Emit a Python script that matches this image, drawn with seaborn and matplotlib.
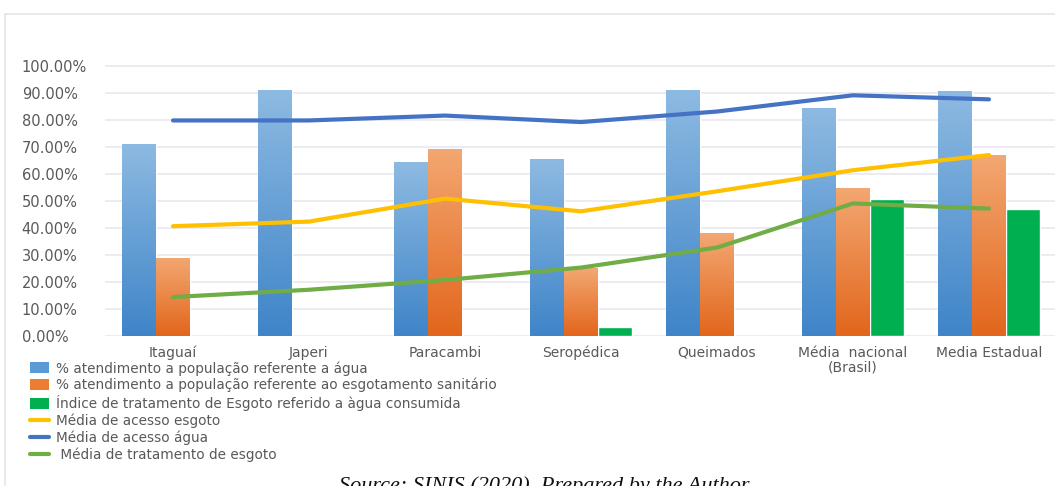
import numpy as np
import pandas as pd
import matplotlib
matplotlib.use("Agg")
import matplotlib.pyplot as plt
import seaborn as sns
from matplotlib.colors import LinearSegmentedColormap
from matplotlib.patches import Patch
from matplotlib.lines import Line2D
from matplotlib.ticker import PercentFormatter

# ── data ──────────────────────────────────────────────────
municipios = ["Itaguaí", "Japeri", "Paracambi", "Seropédica", "Queimados",
              "Média  nacional\n(Brasil)", "Media Estadual"]

agua = [0.710, 0.911, 0.643, 0.656, 0.911, 0.842, 0.906]
esgoto = [0.289, 0.0, 0.693, 0.250, 0.379, 0.549, 0.668]
tratamento = [0.0, 0.0, 0.0, 0.034, 0.0, 0.507, 0.470]

media_esgoto = [0.406, 0.423, 0.508, 0.461, 0.535, 0.613, 0.669]
media_agua = [0.797, 0.797, 0.815, 0.791, 0.830, 0.890, 0.875]
media_tratamento = [0.144, 0.171, 0.207, 0.253, 0.327, 0.490, 0.471]

bar_labels = ["% atendimento a população referente a água",
              "% atendimento a população referente ao esgotamento sanitário",
              "Índice de tratamento de Esgoto referido a àgua consumida"]
line_labels = ["Média de acesso esgoto", "Média de acesso água",
               " Média de tratamento de esgoto"]

bar_colors = ["#5B9BD5", "#ED7D31", "#00B050"]
line_colors = ["#FFC000", "#4472C4", "#70AD47"]
# gradient ends (top, bottom) for blue / orange bars
grads = {"#5B9BD5": ("#8DBAE2", "#3F85C8"),
         "#ED7D31": ("#F3A771", "#E2661C")}

TXT = "#595959"

df = pd.DataFrame({
    "municipio": municipios * 3,
    "indicador": np.repeat(bar_labels, len(municipios)),
    "valor": agua + esgoto + tratamento,
})

sns.set_style("white")
plt.rcParams["font.family"] = ["DejaVu Sans"]

W, H = 1055, 486
fig = plt.figure(figsize=(W / 100, H / 100), dpi=100)
ax = fig.add_axes([105 / W, (H - 336) / H, (1057 - 105) / W, (336 - 65) / H])

sns.barplot(data=df, x="municipio", y="valor", hue="indicador",
            order=municipios, hue_order=bar_labels, palette=bar_colors,
            width=0.75, saturation=1, errorbar=None, legend=False,
            ax=ax, zorder=2)

ax.set_ylim(0, 1.002)
xlim = ax.get_xlim()

# gradient fill on blue / orange bars
for p in list(ax.patches):
    h = p.get_height()
    if h <= 0:
        continue
    hexc = matplotlib.colors.to_hex(p.get_facecolor())
    key = next((k for k in grads if k.lower() == hexc.lower()), None)
    if key is None:
        continue
    top, bot = grads[key]
    cmap = LinearSegmentedColormap.from_list("g", [bot, top])
    x0 = p.get_x()
    im = ax.imshow(np.linspace(0, 1, 100).reshape(-1, 1), cmap=cmap,
                   extent=(x0, x0 + p.get_width(), 0, h), origin="lower",
                   aspect="auto", zorder=2.5)
    im.set_clip_path(p)

ax.set_xlim(xlim)
ax.set_ylim(0, 1.002)

for vals, col in zip([media_esgoto, media_agua, media_tratamento], line_colors):
    sns.lineplot(x=municipios, y=vals, sort=False, color=col, lw=3,
                 ax=ax, zorder=4, legend=False)

ax.set_xlim(xlim)
ax.yaxis.set_major_formatter(PercentFormatter(1, decimals=2))
ax.set_yticks(np.arange(0, 1.01, 0.1))
ax.grid(axis="y", color="#E6E6EE", lw=1.1, zorder=0)
ax.set_axisbelow(True)
sns.despine(ax=ax, left=True, bottom=True, top=True, right=True)
ax.set_xlabel("")
ax.set_ylabel("")
ax.tick_params(axis="y", length=0, pad=60, labelsize=10.5, labelcolor=TXT)
ax.tick_params(axis="x", length=0, pad=7, labelsize=10, labelcolor=TXT)
for t in ax.get_yticklabels():
    t.set_ha("left")
ax.set_xticks(range(len(municipios)))
ax.set_xticklabels(municipios, linespacing=1.05)

handles = [Patch(facecolor=c, edgecolor="none") for c in bar_colors]
handles += [Line2D([0], [0], color=c, lw=3) for c in line_colors]
fig.legend(handles, bar_labels + line_labels, loc="upper left",
           bbox_to_anchor=(30 / W, (H - 361) / H), frameon=False,
           fontsize=9.8, labelcolor=TXT, handlelength=1.4, handleheight=0.85,
           handletextpad=0.5, labelspacing=0.18, borderaxespad=0,
           borderpad=0)

# outer frame (only top and left edges visible in the crop)
fig.add_artist(Line2D([5 / W, 1], [(H - 14) / H] * 2, color="#E4E4EC", lw=1.2))
fig.add_artist(Line2D([5 / W] * 2, [0, (H - 14) / H], color="#E4E4EC", lw=1.2))

fig.text(339 / W, (H - 476) / H, "Source: SINIS (2020). Prepared by the Author.",
         fontsize=16, style="italic", family="Liberation Serif",
         color="#111111", ha="left", va="top")

fig.savefig("out.png", dpi=100, facecolor="white")
